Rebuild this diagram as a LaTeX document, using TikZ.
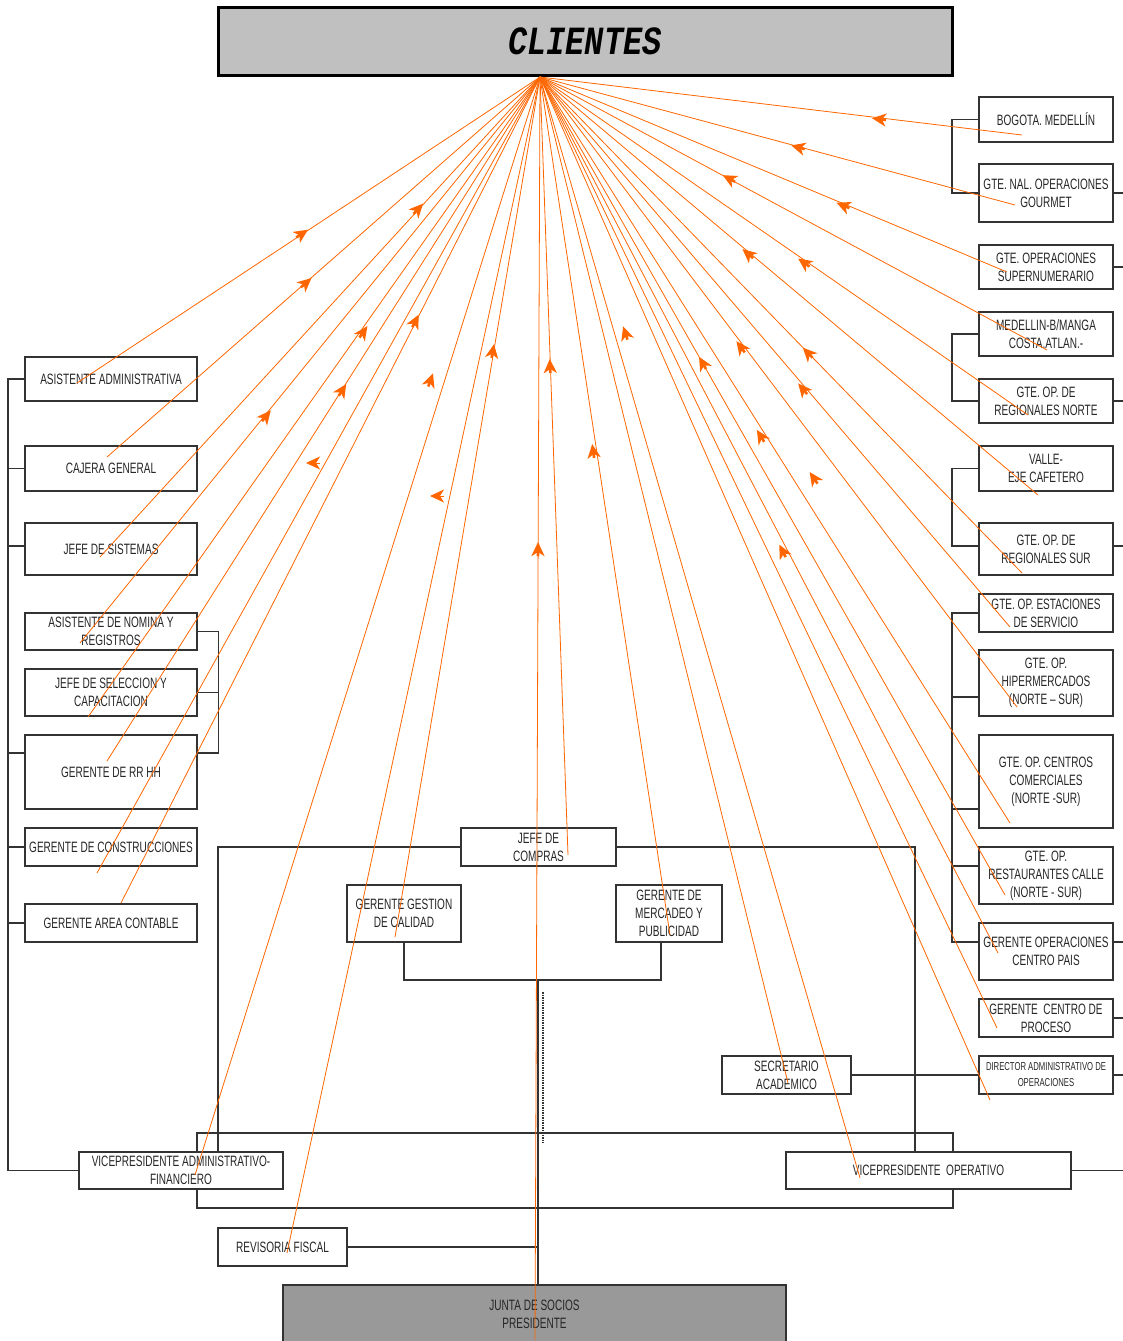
\documentclass[tikz,border=0pt]{standalone}
\usepackage{fontspec}
\setmainfont{Liberation Sans}[FakeStretch=0.67]
\newfontfamily\titlefont{Liberation Mono}[FakeStretch=0.8]
\usepackage{xcolor}
\usepackage{tikz}
\usetikzlibrary{positioning,arrows.meta,calc,backgrounds}
\definecolor{fanorange}{RGB}{255,102,0}
\definecolor{titlegrey}{RGB}{192,192,192}
\definecolor{juntagrey}{RGB}{153,153,153}
\definecolor{edgegrey}{RGB}{51,51,51}
\tikzset{
  box/.style={draw=edgegrey, line width=1.2pt, fill=white, align=center, inner sep=1pt, text=black!85, font=\fontsize{15}{18}\selectfont},
  lbox/.style={box, minimum width=172pt},
  rbox/.style={box, minimum width=134pt},
  link/.style={draw=edgegrey, line width=1.2pt},
  fan/.style={draw=fanorange, line width=0.8pt},
  tip/.style={draw=fanorange, line width=2.6pt, -{Stealth[length=14pt,width=13pt,inset=4pt]}},
}

\begin{document}
\begin{tikzpicture}[x=1pt, y=-1pt]
  \useasboundingbox (0,0) rectangle (1123,1341);
  \node[draw=black, line width=3pt, fill=titlegrey, minimum width=734pt, minimum height=68pt, font=\titlefont\bfseries\itshape\fontsize{40}{40}\selectfont] (title) at (585,41) {CLIENTES};
  \coordinate (hub) at (540,77);

  % left column
  \node[lbox, minimum height=44pt] (asadm) at (111,379) {ASISTENTE ADMINISTRATIVA};
  \node[lbox, minimum height=45pt] (cajera) at (111,468.5) {CAJERA GENERAL};
  \node[lbox, minimum height=52pt] (sistemas) at (111,549) {JEFE DE SISTEMAS};
  \node[lbox, minimum height=37pt] (nomina) at (111,631.5) {ASISTENTE DE NOMINA Y\\REGISTROS};
  \node[lbox, minimum height=47pt] (seleccion) at (111,692.5) {JEFE DE SELECCION Y\\CAPACITACION};
  \node[lbox, minimum height=74pt] (rrhh) at (111,772) {GERENTE DE RR HH};
  \node[lbox, minimum height=38pt] (constr) at (111,847) {GERENTE DE CONSTRUCCIONES};
  \node[lbox, minimum height=38pt] (contable) at (111,923) {GERENTE AREA CONTABLE};

  % right column
  \node[rbox, minimum height=45pt] (bogota) at (1046,119.5) {BOGOTA. MEDELLÍN};
  \node[rbox, minimum height=58pt] (gourmet) at (1046,193) {GTE. NAL. OPERACIONES\\GOURMET};
  \node[rbox, minimum height=44pt] (supernum) at (1046,267) {GTE. OPERACIONES\\SUPERNUMERARIO};
  \node[rbox, minimum height=44pt] (medellin) at (1046,334) {MEDELLIN-B/MANGA\\COSTA.ATLAN.-};
  \node[rbox, minimum height=44pt] (regnorte) at (1046,401) {GTE. OP. DE\\REGIONALES NORTE};
  \node[rbox, minimum height=45pt] (valle) at (1046,468.5) {VALLE-\\EJE CAFETERO};
  \node[rbox, minimum height=52pt] (regsur) at (1046,549) {GTE. OP. DE\\REGIONALES SUR};
  \node[rbox, minimum height=38pt] (estac) at (1046,613) {GTE. OP. ESTACIONES\\DE SERVICIO};
  \node[rbox, minimum height=66pt] (hiper) at (1046,683) {GTE. OP.\\HIPERMERCADOS\\(NORTE – SUR)};
  \node[rbox, minimum height=93pt] (centros) at (1046,781.5) {GTE. OP. CENTROS\\COMERCIALES\\(NORTE -SUR)};
  \node[rbox, minimum height=57pt] (restaur) at (1046,875.5) {GTE. OP.\\RESTAURANTES CALLE\\(NORTE - SUR)};
  \node[rbox, minimum height=57pt] (cpais) at (1046,951.5) {GERENTE OPERACIONES\\CENTRO PAIS};
  \node[rbox, minimum height=38pt] (proceso) at (1046,1018) {GERENTE\ \ CENTRO DE\\PROCESO};
  \node[rbox, minimum height=38pt, font=\fontsize{11.5}{16}\selectfont] (director) at (1046,1075) {DIRECTOR ADMINISTRATIVO DE\\OPERACIONES};

  % centre and bottom
  \node[box, minimum width=155pt, minimum height=38pt] (compras) at (538.5,847) {JEFE DE\\COMPRAS};
  \node[box, minimum width=114pt, minimum height=57pt] (calidad) at (404,913.5) {GERENTE GESTION\\DE CALIDAD};
  \node[box, minimum width=106pt, minimum height=57pt] (mercadeo) at (669,913.5) {GERENTE DE\\MERCADEO Y\\PUBLICIDAD};
  \node[box, minimum width=129pt, minimum height=38pt] (secretario) at (786.5,1075) {SECRETARIO\\ACADEMICO};
  \node[box, minimum width=204pt, minimum height=37pt] (vpadm) at (181,1170.5) {VICEPRESIDENTE ADMINISTRATIVO-\\FINANCIERO};
  \node[box, minimum width=285pt, minimum height=37pt] (vpop) at (928.5,1170.5) {VICEPRESIDENTE\ \ OPERATIVO};
  \node[box, minimum width=129pt, minimum height=38pt] (revisoria) at (282.5,1247) {REVISORIA FISCAL};
  \node[box, fill=juntagrey, minimum width=503pt, minimum height=58pt] (junta) at (534.5,1314) {JUNTA DE SOCIOS\\PRESIDENTE};

  \coordinate (busL) at (8,379);
  \coordinate (busR) at (952,119);
  \coordinate (split) at (538,980);

  \begin{scope}[on background layer]
    % left side
    \draw[link] (asadm.west) -- (asadm.west -| busL) |- (vpadm.west);
    \foreach \n in {cajera, constr, contable}
      \draw[link] (\n.west) -- (\n.west -| busL);
    \draw[link] ([yshift=3pt]sistemas.west) -- ++(-17,0);
    \draw[link] ([yshift=19pt]rrhh.west) -- ++(-17,0);
    \draw[link] (nomina.east) -- ++(21,0) |- ([yshift=19pt]rrhh.east);
    \draw[link] (seleccion.east) -- ++(21,0);
    % right side
    \draw[link] (bogota.west) -- (bogota.west -| busR) |- (gourmet.west);
    \draw[link] (medellin.west) -- (medellin.west -| busR) |- (regnorte.west);
    \draw[link] (valle.west) -- (valle.west -| busR) |- ([yshift=3pt]regsur.west);
    \draw[link] (estac.west) -- (estac.west -| busR) |- ([yshift=9.5pt]cpais.west);
    \draw[link] ([yshift=-14pt]hiper.west) -- ++(-27,0);
    \draw[link] ([yshift=-27.5pt]centros.west) -- ++(-27,0);
    \draw[link] ([yshift=9.5pt]restaur.west) -- ++(-27,0);
    \foreach \n in {gourmet, supernum, regnorte, proceso, director}
      \draw[link] (\n.east) -- ++(12,0);
    \draw[link] (vpop.east) -- ++(54,0);
    \draw[link] ([yshift=3pt]regsur.east) -- ++(12,0);
    \draw[link] ([yshift=9.5pt]cpais.east) -- ++(12,0);
    % centre
    \draw[link] ([xshift=37pt]vpadm.north) |- (compras.west);
    \draw[link] ([xshift=-13.5pt]vpop.north) |- (compras.east);
    \draw[link] (calidad.south) |- (split) -| ([xshift=-8pt]mercadeo.south);
    \draw[link] (split) -- (split |- junta.north);
    \draw[link] (197,1133) rectangle (953,1208);
    \draw[edgegrey, line width=1.6pt, dash pattern=on 1.5pt off 1pt] (543,992) -- (543,1143);
    \draw[link] (revisoria.east) -- (revisoria.east -| split);
    \draw[link] (secretario) -- (director);
  \end{scope}

  % leader lines to CLIENTES
  \foreach \n/\dx/\dy in {asadm/-34/4, cajera/-4/-11.5, sistemas/-11/8, nomina/-31/11.5, seleccion/-23/24.5, rrhh/-4/-11, constr/-14/26, contable/10/-20, vpadm/14/4.5, revisoria/4.5/6, calidad/-9/23.5, compras/29.5/8, mercadeo/1/21.5, junta/0.5/26, secretario/1.5/8, vpop/-68.5/7.5, director/-56/25, bogota/-24/15.5, gourmet/-31/12, supernum/-39/5, medellin/1/16, regnorte/-18/14, valle/-8/26.5, regsur/-24/24, estac/-36/14, hiper/-29/24, centros/-36/41.5, restaur/-41/19.5, cpais/-48/1.5, proceso/-49/10}
    \draw[fan] (hub) -- ($(\n.center)+(\dx,\dy)$);
  \foreach \ax/\ay in {303/233, 307/282, 419/208, 267/415, 364/331, 343/389, 416/320, 431/379, 493/350, 538/548, 550/365, 593/450, 625/332, 878/119, 797/147, 842/205, 728/178, 803/262, 747/253, 807/352, 740/346, 802/388, 702/362, 760/435, 782/550, 813/477}
    \draw[tip] ($(\ax,\ay)!-8pt!(hub)$) -- ($(\ax,\ay)!6pt!(hub)$);
  \draw[tip, line width=0.8pt] (320,463) -- (306,463);
  \draw[tip, line width=0.8pt] (444,496) -- (430,496);
\end{tikzpicture}
\end{document}
